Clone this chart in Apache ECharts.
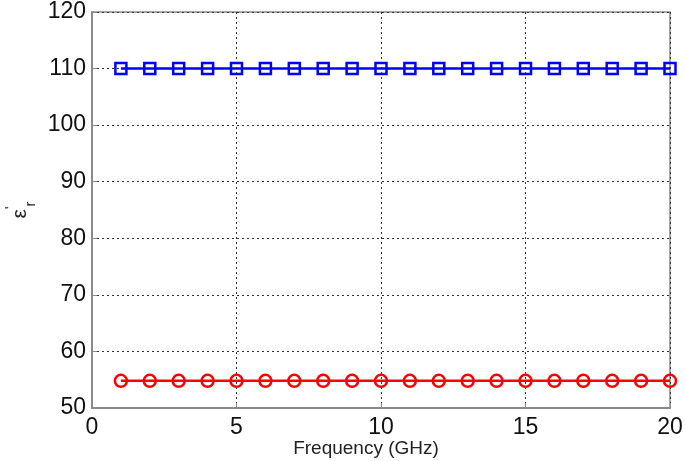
<!DOCTYPE html>
<html><head><meta charset="utf-8">
<script src="https://cdn.jsdelivr.net/npm/echarts@6/dist/echarts.min.js"></script>
<style>html,body{margin:0;padding:0;background:#fff}#c{width:685px;height:461px}</style>
</head><body><div id="c"></div>
<script>
var freqs = [1,2,3,4,5,6,7,8,9,10,11,12,13,14,15,16,17,18,19,20];
var blueVals = [110,110,110,110,110,110,110,110,110,110,110,110,110,110,110,110,110,110,110,110];
var redVals = [54.8,54.8,54.8,54.8,54.8,54.8,54.8,54.8,54.8,54.8,54.8,54.8,54.8,54.8,54.8,54.8,54.8,54.8,54.8,54.8];
var xTicks = {min:0, max:20, interval:5};
var yTicks = {min:50, max:120, interval:10};

function pairs(xs, ys){ return xs.map(function(x,i){return [x, ys[i]];}); }
var chart = echarts.init(document.getElementById('c'));
var font = 'Liberation Sans, Arial, sans-serif';
chart.setOption({
  animation:false,
  grid:{left:92,right:15,top:12,bottom:53,outerBoundsMode:'none',containLabel:false,show:true,borderColor:'#8a8a8a',borderWidth:1.5},
  xAxis:{type:'value',min:xTicks.min,max:xTicks.max,interval:xTicks.interval,
    name:'Frequency (GHz)',nameLocation:'middle',nameGap:31,nameMoveOverlap:false,
    nameTextStyle:{fontFamily:font,fontSize:19,color:'#222',padding:[0,30,0,0]},
    axisLine:{lineStyle:{color:'#8a8a8a',width:2}},
    axisTick:{inside:true,length:5,lineStyle:{color:'#8a8a8a'}},
    axisLabel:{fontFamily:font,fontSize:23,color:'#111',margin:8},
    splitLine:{show:true,lineStyle:{color:'#333',type:[2,3],width:1}}},
  yAxis:{type:'value',min:yTicks.min,max:yTicks.max,interval:yTicks.interval,
    name:'{e|ε}{p|\'}{s|r}',nameLocation:'middle',nameGap:54,nameRotate:90,nameMoveOverlap:false,
    nameTextStyle:{fontFamily:font,color:'#222',rich:{
      e:{fontSize:21,fontFamily:font,color:'#222',verticalAlign:'middle'},
      s:{fontSize:15,fontFamily:font,color:'#222',verticalAlign:'bottom',padding:[16,0,0,0]},
      p:{fontSize:15,fontFamily:font,color:'#222',verticalAlign:'top',padding:[0,0,20,0]}}},
    axisLine:{lineStyle:{color:'#8a8a8a',width:2}},
    axisTick:{inside:true,length:5,lineStyle:{color:'#8a8a8a'}},
    axisLabel:{fontFamily:font,fontSize:23,color:'#111',margin:6},
    splitLine:{show:true,lineStyle:{color:'#333',type:[2,3],width:1}}},
  series:[
    {type:'line',data:pairs(freqs,blueVals),symbol:'rect',symbolSize:11,
     lineStyle:{color:'#0000ff',width:2.5},
     itemStyle:{color:'rgba(0,0,0,0)',borderColor:'#0000ff',borderWidth:2.5}},
    {type:'line',data:pairs(freqs,redVals),symbol:'circle',symbolSize:12,
     lineStyle:{color:'#ff0000',width:2.5},
     itemStyle:{color:'rgba(0,0,0,0)',borderColor:'#ff0000',borderWidth:2.5}}
  ]
});
</script></body></html>
